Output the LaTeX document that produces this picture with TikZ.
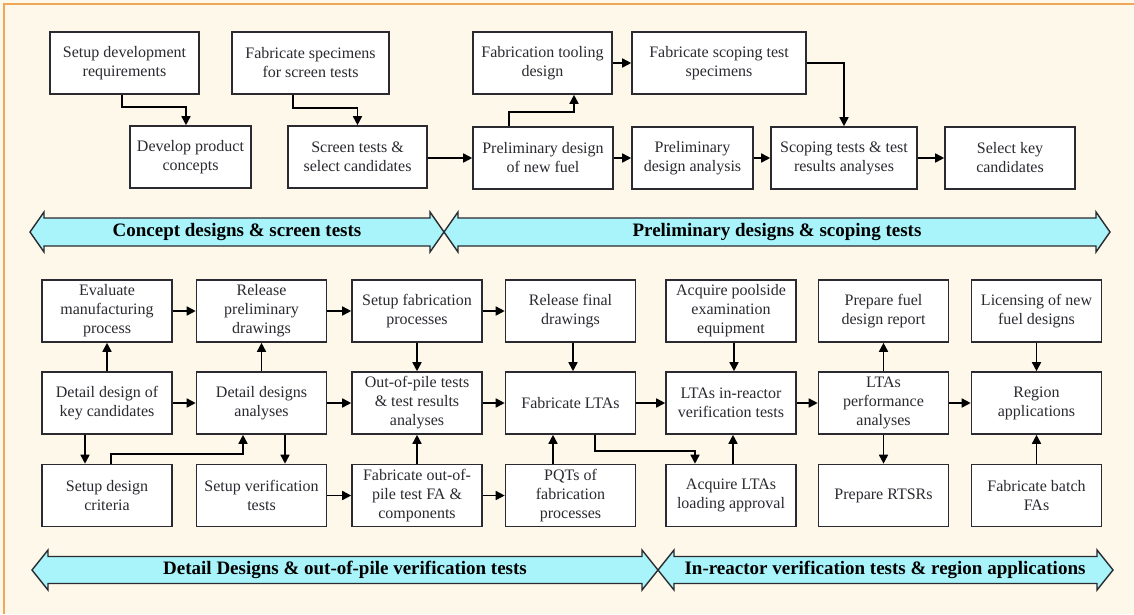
\documentclass[tikz,border=0pt]{standalone}
\usepackage{fontspec}
\setmainfont{Liberation Serif}
\usetikzlibrary{arrows.meta}
\definecolor{bg}{HTML}{FDF8EA}
\definecolor{framec}{HTML}{F0A858}
\definecolor{ink}{HTML}{2A2A30}
\definecolor{bandc}{HTML}{A8F4FA}
\begin{document}
\begin{tikzpicture}[x=1pt,y=-1pt,
  box/.style={draw=ink, line width=1.6pt, fill=white, minimum width=130pt, minimum height=62pt,
    inner sep=1pt, align=center, font=\fontsize{16}{19}\selectfont, text=ink},
  arr/.style={draw=black, line width=1.6pt, -{Triangle[length=9pt,width=9pt]}},
  band/.style={draw=ink, line width=1.4pt, fill=bandc, line join=miter},
  bandtext/.style={font=\bfseries\fontsize{19}{22}\selectfont, text=black, inner sep=0pt}]
\useasboundingbox (0,0) rectangle (1134,614);
\fill[bg] (0,0) rectangle (1134,614);
\draw[framec, line width=1.5pt] (1134,4) -- (4,4) -- (4,614);

% ---------- top section ----------
\node[box, minimum width=149pt] (sdr) at (124.5,63) {Setup development\\requirements};
\node[box, minimum width=121pt] (dpc) at (190.5,157) {Develop product\\concepts};
\node[box, minimum width=157pt] (fss) at (310.5,63) {Fabricate specimens\\for screen tests};
\node[box, minimum width=139pt] (stsc) at (357.5,157) {Screen tests \&\\select candidates};
\node[box, minimum width=139pt] (ftd) at (542.5,63) {Fabrication tooling\\design};
\node[box, minimum width=174pt] (fsts) at (719,63) {Fabricate scoping test\\specimens};
\node[box, minimum width=140pt] (pdnf) at (543,158) {Preliminary design\\of new fuel};
\node[box, minimum width=121pt] (pda) at (692.5,158) {Preliminary\\design analysis};
\node[box, minimum width=146pt] (str) at (844,158) {Scoping tests \& test\\results analyses};
\node[box, minimum width=130pt] (skc) at (1010,158) {Select key\\candidates};

\draw[arr] ([xshift=-2.5pt]sdr.south) -- ++(0,12) -| ([xshift=-4.5pt]dpc.north);
\draw[arr] ([xshift=-17.5pt]fss.south) -- ++(0,13) -| (stsc.north);
\draw[arr] (stsc.east |- pdnf.west) -- (pdnf.west);
\draw[arr] ([xshift=-34pt]pdnf.north) -- ++(0,-14) -| ([xshift=31.5pt]ftd.south);
\draw[arr] (ftd.east) -- (fsts.west);
\draw[arr] (pdnf.east) -- (pda.west);
\draw[arr] (pda.east) -- (str.west);
\draw[arr] (str.east) -- (skc.west);
\draw[arr] (fsts.east) -| (str.north);

% ---------- top banners ----------
\draw[band] (30,232) -- (44,212) -- (44,218) -- (430,218) -- (430,212) -- (444,232)
  -- (430,252) -- (430,246) -- (44,246) -- (44,252) -- cycle;
\draw[band] (444,232) -- (458,212) -- (458,218) -- (1096,218) -- (1096,212) -- (1110,232)
  -- (1096,252) -- (1096,246) -- (458,246) -- (458,252) -- cycle;
\node[bandtext] (b1) at (237,232) {Concept designs \& screen tests};
\node[bandtext] (b2) at (777,232) {Preliminary designs \& scoping tests};

% ---------- bottom section ----------
% row 1
\node[box] (emp)  at (107,311)    {Evaluate\\manufacturing\\process};
\node[box] (rpd)  at (261.5,311)  {Release\\preliminary\\drawings};
\node[box] (sfp)  at (417,311)    {Setup fabrication\\processes};
\node[box] (rfd)  at (570.5,311)  {Release final\\drawings};
\node[box] (ape)  at (731,311)    {Acquire poolside\\examination\\equipment};
\node[box] (pfdr) at (883.5,311)  {Prepare fuel\\design report};
\node[box] (lic)  at (1036.5,311) {Licensing of new\\fuel designs};
% row 2
\node[box] (ddkc) at (107,403)    {Detail design of\\key candidates};
\node[box] (dda)  at (261.5,403)  {Detail designs\\analyses};
\node[box] (opt)  at (417,403)    {Out-of-pile tests\\\& test results\\analyses};
\node[box] (flta) at (570.5,403)  {Fabricate LTAs};
\node[box] (lirv) at (731,403)    {LTAs in-reactor\\verification tests};
\node[box] (lpa)  at (883.5,403)  {LTAs\\performance\\analyses};
\node[box] (ra)   at (1036.5,403) {Region\\applications};
% row 3
\node[box] (sdc)  at (107,495.5)    {Setup design\\criteria};
\node[box] (svt)  at (261.5,495.5)  {Setup verification\\tests};
\node[box] (fopt) at (417,495.5)    {Fabricate out-of-\\pile test FA \&\\components};
\node[box] (pqt)  at (570.5,495.5)  {PQTs of\\fabrication\\processes};
\node[box] (ala)  at (731,495.5)    {Acquire LTAs\\loading approval};
\node[box] (rtsr) at (883.5,495.5)  {Prepare RTSRs};
\node[box] (fbf)  at (1036.5,495.5) {Fabricate batch\\FAs};

% horizontal connectors
\draw[arr] (emp.east) -- (rpd.west);
\draw[arr] (rpd.east) -- (sfp.west);
\draw[arr] (sfp.east) -- (rfd.west);
\draw[arr] (ddkc.east) -- (dda.west);
\draw[arr] (dda.east) -- (opt.west);
\draw[arr] (opt.east) -- (flta.west);
\draw[arr] (flta.east) -- (lirv.west);
\draw[arr] (lirv.east) -- (lpa.west);
\draw[arr] (lpa.east) -- (ra.west);
\draw[arr] (svt.east) -- (fopt.west);
\draw[arr] (fopt.east) -- (pqt.west);
% vertical connectors
\draw[arr] (ddkc.north) -- (emp.south);
\draw[arr] (dda.north) -- (rpd.south);
\draw[arr] (sfp.south) -- (opt.north);
\draw[arr] ([xshift=-22pt]ddkc.south) -- ([xshift=-22pt]sdc.north);
\draw[arr] ([xshift=4pt]sdc.north) -- ++(0,-10) -| ([xshift=-18.5pt]dda.south);
\draw[arr] ([xshift=23.5pt]dda.south) -- ([xshift=23.5pt]svt.north);
\draw[arr] (fopt.north) -- (opt.south);
\draw[arr] ([xshift=2.5pt]rfd.south) -- ([xshift=2.5pt]flta.north);
\draw[arr] ([xshift=-17.5pt]pqt.north) -- ([xshift=-17.5pt]flta.south);
\draw[arr] ([xshift=24.5pt]flta.south) -- ++(0,16) -| ([xshift=-36pt]ala.north);
\draw[arr] ([xshift=2pt]ala.north) -- ([xshift=2pt]lirv.south);
\draw[arr] ([xshift=3pt]ape.south) -- ([xshift=3pt]lirv.north);
\draw[arr] (lpa.north) -- (pfdr.south);
\draw[arr] (lpa.south) -- (rtsr.north);
\draw[arr] (lic.south) -- (ra.north);
\draw[arr] (fbf.north) -- (ra.south);

% ---------- bottom banners ----------
\draw[band] (32,570) -- (48,550) -- (48,556.5) -- (642,556.5) -- (642,550) -- (658,570)
  -- (642,590) -- (642,583.5) -- (48,583.5) -- (48,590) -- cycle;
\draw[band] (658,570) -- (674,550) -- (674,556.5) -- (1097,556.5) -- (1097,550) -- (1113,570)
  -- (1097,590) -- (1097,583.5) -- (674,583.5) -- (674,590) -- cycle;
\node[bandtext] (b3) at (345,570) {Detail Designs \& out-of-pile verification tests};
\node[bandtext] (b4) at (885,570) {In-reactor verification tests \& region applications};
\end{tikzpicture}
\end{document}
